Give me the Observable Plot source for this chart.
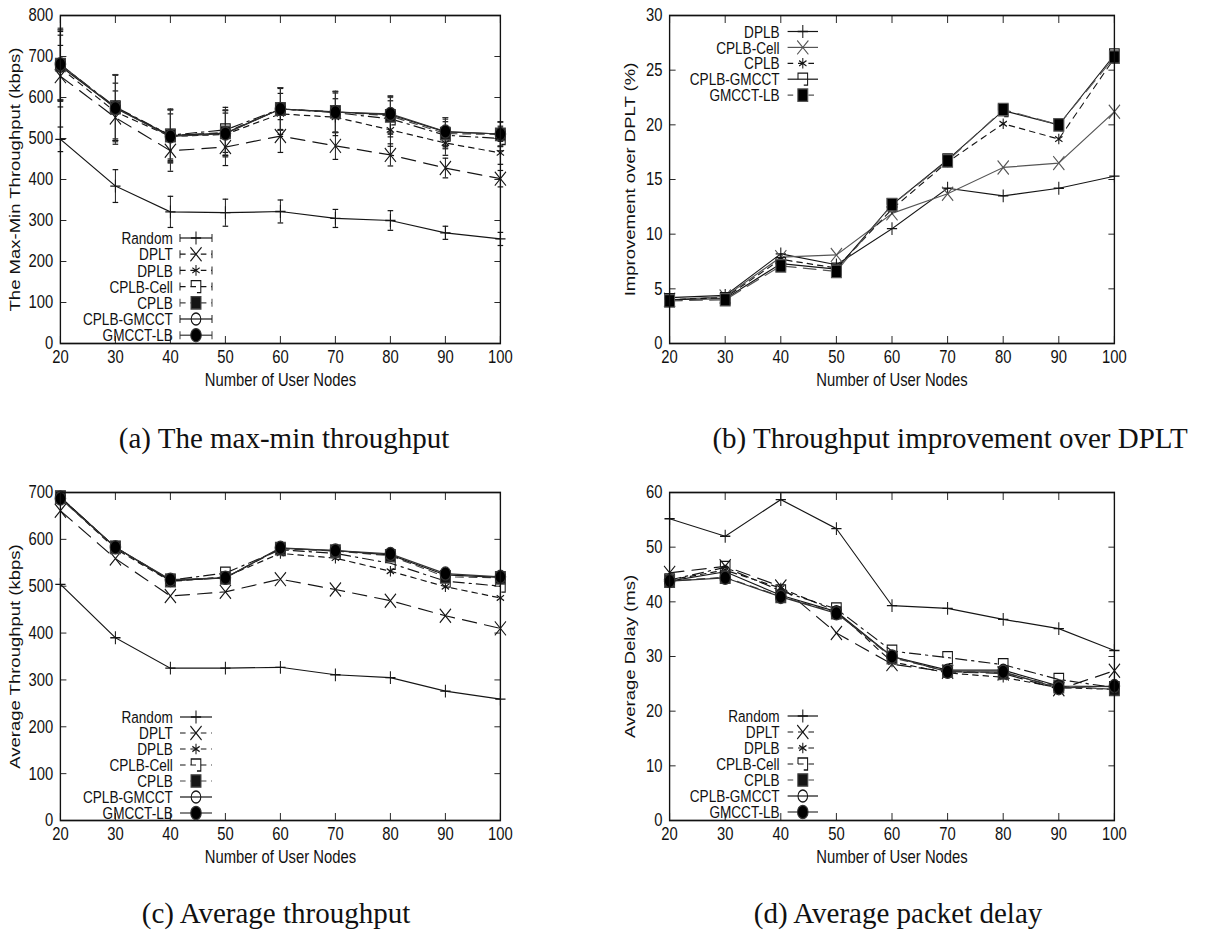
<!DOCTYPE html>
<html><head><meta charset="utf-8">
<script src="https://cdn.jsdelivr.net/npm/d3@7"></script>
<script src="https://cdn.jsdelivr.net/npm/@observablehq/plot@0.6"></script>
<style>
body{margin:0;background:#fff;width:1221px;height:933px;position:relative;overflow:hidden;font-family:"Liberation Sans",Arial,sans-serif;}
.panel{position:absolute;width:611px;height:400px;overflow:visible;}
.panel svg{transform:scaleX(0.8);transform-origin:0 0;display:block;max-width:none !important;height:400px !important;}
.cap{position:absolute;font-family:"Liberation Serif","Times New Roman",serif;font-size:29px;white-space:nowrap;transform:translateX(-50%);color:#111;line-height:1;}
</style></head><body>
<div id="pa" class="panel" style="left:0;top:0"></div>
<div id="pb" class="panel" style="left:610px;top:0"></div>
<div id="pc" class="panel" style="left:0;top:477px"></div>
<div id="pd" class="panel" style="left:610px;top:477px"></div>
<div class="cap" style="left:284px;top:424px">(a) The max-min throughput</div>
<div class="cap" style="left:950px;top:424px">(b) Throughput improvement over DPLT</div>
<div class="cap" style="left:276px;top:899px">(c) Average throughput</div>
<div class="cap" style="left:898px;top:899px">(d) Average packet delay</div>
<script>
// ---------------- data ----------------
const nodes = [20, 30, 40, 50, 60, 70, 80, 90, 100];
const seriesAll = ["Random", "DPLT", "DPLB", "CPLB-Cell", "CPLB", "CPLB-GMCCT", "GMCCT-LB"];
const seriesB = ["DPLB", "CPLB-Cell", "CPLB", "CPLB-GMCCT", "GMCCT-LB"];

// (a) max-min throughput (kbps) and error half-widths
const aRandom     = [498, 384, 321, 319, 322, 305, 300, 270, 255];
const aDPLT       = [652, 551, 470, 479, 506, 482, 460, 428, 402];
const aDPLB       = [672, 565, 505, 510, 560, 552, 521, 489, 465];
const aCPLBCell   = [680, 577, 508, 521, 572, 563, 548, 508, 500];
const aCPLB       = [680, 575, 507, 515, 572, 565, 555, 512, 510];
const aCPLBGMCCT  = [676, 575, 507, 513, 572, 565, 558, 516, 511];
const aGMCCTLB    = [681, 574, 505, 512, 572, 564, 560, 517, 511];
const aRandomErr    = [30, 40, 38, 33, 28, 22, 24, 16, 16];
const aDPLTErr      = [75, 65, 50, 45, 40, 33, 27, 24, 20];
const aDPLBErr      = [80, 70, 55, 52, 50, 45, 40, 30, 28];
const aCPLBCellErr  = [85, 78, 62, 55, 52, 48, 44, 33, 30];
const aCPLBErr      = [85, 80, 63, 55, 52, 50, 45, 35, 30];
const aCPLBGMCCTErr = [85, 80, 65, 55, 50, 50, 45, 35, 30];
const aGMCCTLBErr   = [88, 82, 65, 57, 52, 50, 44, 34, 29];

// (b) improvement over DPLT (%)
const bDPLB      = [4.2, 4.4, 8.2, 7.2, 10.5, 14.2, 13.5, 14.2, 15.3];
const bCPLBCell  = [4.0, 4.3, 7.9, 8.1, 11.9, 13.7, 16.1, 16.5, 21.2];
const bCPLB      = [4.0, 4.2, 7.7, 6.9, 12.3, 16.6, 20.1, 18.7, 26.1];
const bCPLBGMCCT = [4.0, 4.1, 7.3, 6.8, 12.7, 16.8, 21.3, 20.0, 26.4];
const bGMCCTLB   = [3.9, 4.0, 7.1, 6.6, 12.7, 16.7, 21.4, 20.0, 26.2];

// (c) average throughput (kbps)
const cRandom    = [504, 390, 325, 325, 327, 311, 305, 276, 259];
const cDPLT      = [661, 559, 479, 488, 515, 493, 469, 437, 410];
const cDPLB      = [688, 580, 510, 520, 570, 560, 532, 499, 475];
const cCPLBCell  = [690, 583, 513, 528, 578, 570, 549, 511, 500];
const cCPLB      = [690, 583, 512, 518, 580, 575, 565, 520, 518];
const cCPLBGMCCT = [690, 583, 512, 518, 581, 576, 567, 524, 519];
const cGMCCTLB   = [687, 583, 514, 518, 582, 576, 569, 527, 520];

// (d) average delay (ms)
const dRandom    = [55.2, 52.0, 58.7, 53.4, 39.3, 38.8, 36.8, 35.1, 31.1];
const dDPLT      = [45.3, 46.5, 42.8, 34.3, 28.6, 27.2, 26.9, 24.0, 27.4];
const dDPLB      = [44.0, 45.8, 42.5, 38.3, 29.0, 27.0, 26.2, 24.3, 24.0];
const dCPLBCell  = [44.0, 46.3, 42.0, 38.7, 31.0, 29.8, 28.5, 25.8, 24.3];
const dCPLB      = [43.8, 44.5, 41.0, 38.0, 29.8, 27.3, 27.0, 24.5, 24.0];
const dCPLBGMCCT = [43.8, 45.5, 41.2, 38.2, 30.0, 27.5, 27.5, 24.6, 24.5];
const dGMCCTLB   = [43.8, 44.4, 40.9, 37.9, 30.0, 27.2, 27.2, 24.2, 24.6];

// tick values
const xTicks = [20, 30, 40, 50, 60, 70, 80, 90, 100];
const aTicks = [0, 100, 200, 300, 400, 500, 600, 700, 800];
const bTicks = [0, 5, 10, 15, 20, 25, 30];
const cTicks = [0, 100, 200, 300, 400, 500, 600, 700];
const dTicks = [0, 10, 20, 30, 40, 50, 60];

// ---------------- styles ----------------
const bracket = {draw(ctx, size) {
  const r = Math.sqrt(size / Math.PI);
  ctx.moveTo(-r, 0); ctx.lineTo(-r, -r); ctx.lineTo(r, -r); ctx.lineTo(r, r); ctx.lineTo(r * 0.2, r);
}};
const hcap = {draw(ctx, size) {
  const r = Math.sqrt(size / Math.PI);
  ctx.moveTo(-r, 0); ctx.lineTo(r, 0);
}};
const INK = "#151515";
const stAll = [
  {dash: null,         sym: d3.symbolPlus,     r: 4.2, fill: "none", stroke: INK},
  {dash: "18,10",      sym: d3.symbolTimes,    r: 6.4, fill: "none", stroke: INK},
  {dash: "7,6",        sym: d3.symbolAsterisk, r: 5.0, fill: "none", stroke: INK},
  {dash: "14,6,3,6",   sym: bracket,           r: 6.0, fill: "none", stroke: INK},
  {dash: "10,7",       sym: d3.symbolSquare,   r: 7.0, fill: INK,    stroke: "#444"},
  {dash: null,         sym: d3.symbolCircle,   r: 6.0, fill: "none", stroke: INK},
  {dash: null,         sym: d3.symbolCircle,   r: 6.6, fill: "#000", stroke: "#333"}
];
const stB = [
  {dash: null,   sym: d3.symbolPlus,     r: 4.2, fill: "none", stroke: INK},
  {dash: null,   sym: d3.symbolTimes,    r: 6.4, fill: "none", stroke: "#555"},
  {dash: "7,6",  sym: d3.symbolAsterisk, r: 5.0, fill: "none", stroke: INK},
  {dash: null,   sym: bracket,           r: 6.0, fill: "none", stroke: INK},
  {dash: "16,9", sym: d3.symbolSquare,   r: 7.0, fill: "#000", stroke: "#555"}
];
const FS = 18.5;   // axis text
const LFS = 17;    // legend text

// ---------------- panel builder ----------------
function panel(cfg) {
  const marks = [];
  cfg.series.forEach((s, k) => {
    const st = cfg.styles[k];
    const data = nodes.map((x, i) => ({x, y: s.values[i], e: s.err ? s.err[i] : 0}));
    marks.push(Plot.line(data, {x: "x", y: "y", stroke: st.stroke, strokeWidth: 1.2, strokeDasharray: st.dash}));
    if (s.err) {
      marks.push(Plot.ruleX(data, {x: "x", y1: d => d.y - d.e, y2: d => d.y + d.e, stroke: st.stroke, strokeWidth: 1.2}));
      marks.push(Plot.dot(data, {x: "x", y: d => d.y - d.e, symbol: hcap, r: 3.5, stroke: st.stroke, fill: "none", strokeWidth: 1.2}));
      marks.push(Plot.dot(data, {x: "x", y: d => d.y + d.e, symbol: hcap, r: 3.5, stroke: st.stroke, fill: "none", strokeWidth: 1.2}));
    }
  });
  cfg.series.forEach((s, k) => {
    const st = cfg.styles[k];
    const data = nodes.map((x, i) => ({x, y: s.values[i]}));
    marks.push(Plot.dot(data, {x: "x", y: "y", symbol: st.sym, r: st.r, fill: st.fill, stroke: st.stroke, strokeWidth: 1.3}));
  });
  marks.push(
    Plot.axisX(xTicks, {anchor: "bottom", tickSize: -7, tickPadding: 13, fontSize: FS, label: null}),
    Plot.axisX(xTicks, {anchor: "top", tickSize: -7, tickFormat: () => "", label: null}),
    Plot.axisY(cfg.yTicks, {anchor: "left", tickSize: -8, tickPadding: 17, fontSize: FS, label: null}),
    Plot.axisY(cfg.yTicks, {anchor: "right", tickSize: -8, tickFormat: () => "", label: null}),
    Plot.frame({stroke: "#111", strokeWidth: 1.7}),
    Plot.text([cfg.xLabel], {frameAnchor: "bottom", dy: 42, fontSize: FS, fill: "#111"}),
    Plot.text([cfg.yLabel], {frameAnchor: "left", dx: -cfg.yLabelOffset, rotate: -90, textAnchor: "middle", fontSize: FS, fill: "#111"})
  );
  const svg = Plot.plot({
    width: cfg.width, height: 400,
    marginLeft: cfg.ml, marginRight: cfg.mr, marginTop: 15, marginBottom: 57,
    style: {fontFamily: "'Liberation Sans', Arial, sans-serif", fontSize: FS + "px", color: "#111", background: "white", overflow: "visible"},
    x: {type: "linear", domain: [20, 100]},
    y: {type: "linear", domain: cfg.yDomain},
    marks
  });
  // legend (inside plot area)
  const g = d3.select(svg).append("g").attr("font-size", LFS).attr("fill", "#111");
  cfg.series.forEach((s, k) => {
    const st = cfg.styles[k];
    const y = cfg.leg.y0 + k * cfg.leg.dy;
    g.append("text").attr("x", cfg.leg.tx).attr("y", y).attr("dy", "0.36em")
      .attr("text-anchor", "end").text(s.name);
    g.append("line").attr("x1", cfg.leg.x1).attr("x2", cfg.leg.x2).attr("y1", y).attr("y2", y)
      .attr("stroke", st.stroke).attr("stroke-width", 1.2).attr("stroke-dasharray", st.dash ? "7,6" : null);
    if (cfg.leg.caps) {
      [cfg.leg.x1, cfg.leg.x2].forEach(x => g.append("line").attr("x1", x).attr("x2", x)
        .attr("y1", y - 4).attr("y2", y + 4).attr("stroke", st.stroke).attr("stroke-width", 1.2));
    }
    g.append("path").attr("transform", `translate(${(cfg.leg.x1 + cfg.leg.x2) / 2},${y})`)
      .attr("d", d3.symbol(st.sym, st.r * st.r * Math.PI)())
      .attr("fill", st.fill).attr("stroke", st.stroke).attr("stroke-width", 1.3);
  });
  document.getElementById(cfg.el).appendChild(svg);
}

panel({
  el: "pa", width: 762, ml: 75, mr: 137, yDomain: [0, 800], yTicks: aTicks,
  xLabel: "Number of User Nodes", yLabel: "The Max-Min Throughput (kbps)", yLabelOffset: 56,
  styles: stAll,
  series: [
    {name: seriesAll[0], values: aRandom, err: aRandomErr},
    {name: seriesAll[1], values: aDPLT, err: aDPLTErr},
    {name: seriesAll[2], values: aDPLB, err: aDPLBErr},
    {name: seriesAll[3], values: aCPLBCell, err: aCPLBCellErr},
    {name: seriesAll[4], values: aCPLB, err: aCPLBErr},
    {name: seriesAll[5], values: aCPLBGMCCT, err: aCPLBGMCCTErr},
    {name: seriesAll[6], values: aGMCCTLB, err: aGMCCTLBErr}
  ],
  leg: {tx: 216, x1: 225, x2: 265, y0: 238, dy: 16.2, caps: true}
});
panel({
  el: "pb", width: 764, ml: 74, mr: 134, yDomain: [0, 30], yTicks: bTicks,
  xLabel: "Number of User Nodes", yLabel: "Improvement over DPLT (%)", yLabelOffset: 49,
  styles: stB,
  series: [
    {name: seriesB[0], values: bDPLB},
    {name: seriesB[1], values: bCPLBCell},
    {name: seriesB[2], values: bCPLB},
    {name: seriesB[3], values: bCPLBGMCCT},
    {name: seriesB[4], values: bGMCCTLB}
  ],
  leg: {tx: 212, x1: 222, x2: 260, y0: 31.5, dy: 15.9, caps: false}
});
panel({
  el: "pc", width: 762, ml: 75, mr: 137, yDomain: [0, 700], yTicks: cTicks,
  xLabel: "Number of User Nodes", yLabel: "Average Throughput (kbps)", yLabelOffset: 56,
  styles: stAll,
  series: [
    {name: seriesAll[0], values: cRandom},
    {name: seriesAll[1], values: cDPLT},
    {name: seriesAll[2], values: cDPLB},
    {name: seriesAll[3], values: cCPLBCell},
    {name: seriesAll[4], values: cCPLB},
    {name: seriesAll[5], values: cCPLBGMCCT},
    {name: seriesAll[6], values: cGMCCTLB}
  ],
  leg: {tx: 216, x1: 225, x2: 265, y0: 240, dy: 16, caps: false}
});
panel({
  el: "pd", width: 764, ml: 74, mr: 134, yDomain: [0, 60], yTicks: dTicks,
  xLabel: "Number of User Nodes", yLabel: "Average Delay (ms)", yLabelOffset: 49,
  styles: stAll,
  series: [
    {name: seriesAll[0], values: dRandom},
    {name: seriesAll[1], values: dDPLT},
    {name: seriesAll[2], values: dDPLB},
    {name: seriesAll[3], values: dCPLBCell},
    {name: seriesAll[4], values: dCPLB},
    {name: seriesAll[5], values: dCPLBGMCCT},
    {name: seriesAll[6], values: dGMCCTLB}
  ],
  leg: {tx: 212, x1: 222, x2: 260, y0: 239, dy: 16, caps: false}
});
</script>
</body></html>
